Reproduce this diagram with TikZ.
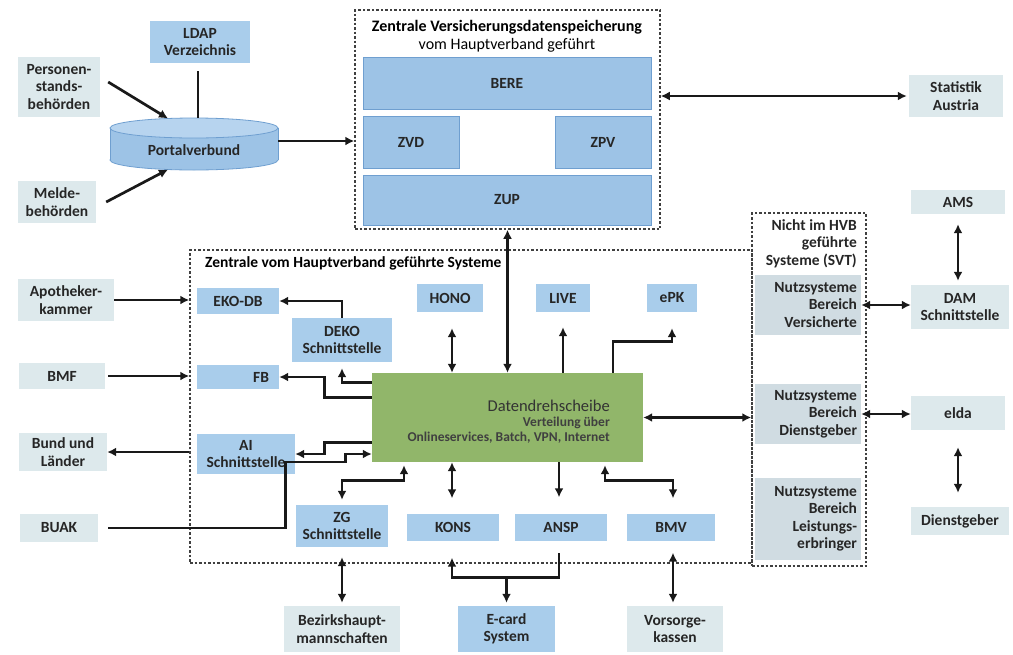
\documentclass[tikz,border=0pt]{standalone}
\usepackage{fontspec}
\setmainfont{Carlito}
\usetikzlibrary{arrows.meta,calc}
\definecolor{extc}{HTML}{DDE9EC}
\definecolor{lbc}{HTML}{A9CDEB}
\definecolor{dbc}{HTML}{9DC3E6}
\definecolor{dbd}{HTML}{6F9FD0}
\definecolor{topc}{HTML}{B7D4EF}
\definecolor{nutzc}{HTML}{D0DCE2}
\definecolor{grn}{HTML}{91B66A}
\begin{document}
\begin{tikzpicture}[x=1pt,y=-1pt,
  txt/.style={font=\bfseries\fontsize{15.5}{17.5}\selectfont, text=black!85, inner sep=0pt, align=center},
  bx/.style 2 args={minimum width=#1, minimum height=#2},
  ext/.style={txt, fill=extc},
  lb/.style={txt, fill=lbc},
  db/.style={txt, fill=dbc, draw=dbd, line width=0.8pt},
  nutz/.style={txt, fill=nutzc, align=right, text width=98pt},
  grnbox/.style={fill=grn, inner sep=0pt},
  frame/.style={draw=black!75, line width=1.5pt, dash pattern=on 2.5pt off 2pt, inner sep=0pt},
  conn/.style={draw=black!90, line width=2.7pt},
  arr/.style={conn, -{Latex[length=9pt,width=9pt]}},
  darr/.style={conn, {Latex[length=9pt,width=9pt]}-{Latex[length=9pt,width=9pt]}},
  rarr/.style={conn, {Latex[length=9pt,width=9pt]}-},
  thinline/.style={line width=1.8pt},
]
\useasboundingbox[fill=white] (0,0) rectangle (1013,654);

% frames
\node[frame, bx={305}{219}] (topf) at (507.5,119.5) {};
\node[frame, bx={562}{313}] (midf) at (471,406.5) {};
\node[frame, bx={114}{353}] (svt) at (809,389.5) {};

% frame titles
\node[txt, font=\bfseries\fontsize{16}{17}\selectfont, text=black] (t1) at (507,27) {Zentrale Versicherungsdatenspeicherung};
\node[txt, font=\mdseries\fontsize{16}{17}\selectfont, text=black] (t2) at (507,45) {vom Hauptverband geführt};
\node[txt, anchor=west, font=\bfseries\fontsize{15.5}{17}\selectfont, text=black] (t3) at (205,263) {Zentrale vom Hauptverband geführte Systeme};
\node[txt, anchor=north east, align=right] (t4) at (857,219) {Nicht im HVB\\geführte\\Systeme (SVT)};

% external boxes
\node[ext, bx={82}{60}] (pers) at (59,87) {Personen-\\stands-\\behörden};
\node[ext, bx={78}{42}] (melde) at (57,202) {Melde-\\behörden};
\node[ext, bx={96}{42}] (apo) at (66,300) {Apotheker-\\kammer};
\node[ext, bx={86}{26}] (bmf) at (62,376) {BMF};
\node[ext, bx={88}{38}] (bund) at (63,452) {Bund und\\Länder};
\node[ext, bx={78}{28}] (buak) at (59,528) {BUAK};
\node[ext, bx={94}{42}] (stat) at (956,96) {Statistik\\Austria};
\node[ext, bx={94}{24}] (ams) at (958,202) {AMS};
\node[ext, bx={98}{44}] (dam) at (960,307) {DAM\\Schnittstelle};
\node[ext, bx={94}{34}] (elda) at (958,413) {elda};
\node[ext, bx={98}{28}] (dg) at (960,521) {Dienstgeber};
\node[ext, bx={116}{46}] (bezirk) at (342,629) {Bezirkshaupt-\\mannschaften};
\node[ext, bx={96}{46}] (vors) at (675,629) {Vorsorge-\\kassen};

% light blue boxes
\node[lb, bx={100}{42}] (ldap) at (200,42) {LDAP\\Verzeichnis};
\node[lb, bx={82}{26}] (ekodb) at (238,301) {EKO-DB};
\node[lb, bx={100}{44}] (deko) at (342,340) {DEKO\\Schnittstelle};
\node[lb, bx={82}{24}, text width=62pt, align=right] (fb) at (238,377) {FB};
\node[lb, bx={98}{40}] (ai) at (246,454) {AI\\Schnittstelle};
\node[lb, bx={66}{28}] (hono) at (450,298) {HONO};
\node[lb, bx={54}{28}] (live) at (563,298) {LIVE};
\node[lb, bx={50}{28}] (epk) at (672,298) {ePK};
\node[lb, bx={92}{42}] (zg) at (342,526) {ZG\\Schnittstelle};
\node[lb, bx={92}{27}] (kons) at (453,527) {KONS};
\node[lb, bx={92}{27}] (ansp) at (561,527) {ANSP};
\node[lb, bx={88}{27}] (bmv) at (671,527) {BMV};
\node[lb, bx={97}{46}] (ecard) at (506.5,629) {E-card\\System};

% database boxes
\node[db, bx={288}{52}] (bere) at (507,83) {BERE};
\node[db, bx={96}{52}] (zvd) at (411,142) {ZVD};
\node[db, bx={96}{52}] (zpv) at (603,142) {ZPV};
\node[db, bx={288}{50}] (zup) at (507,200) {ZUP};

% SVT boxes
\node[nutz, bx={106}{60}] (nv) at (808,305) {Nutzsysteme\\Bereich\\Versicherte};
\node[nutz, bx={106}{60}] (nd) at (808,414) {Nutzsysteme\\Bereich\\Dienstgeber};
\node[nutz, bx={106}{82}] (nl) at (808,519) {Nutzsysteme\\Bereich\\Leistungs-\\erbringer};

% Datendrehscheibe
\node[grnbox, bx={271}{89}] (dds) at (507.5,417.5) {};
\node[txt, anchor=east, font=\mdseries\fontsize{16.5}{17}\selectfont, text=black!80] (dds1) at (610,406) {Datendrehscheibe};
\node[txt, anchor=east, font=\bfseries\fontsize{13.5}{14}\selectfont, text=black!75] (dds2) at (610,423) {Verteilung über};
\node[txt, anchor=east, font=\bfseries\fontsize{13.5}{14}\selectfont, text=black!75] (dds3) at (610,438) {Onlineservices, Batch, VPN, Internet};

% Portalverbund cylinder
\draw[fill=dbc, draw=dbd, line width=0.8pt] (194,160) ellipse [x radius=84, y radius=10];
\fill[dbc] (110,128) rectangle (278,160);
\draw[dbd, line width=0.8pt] (110,128) -- (110,160) (278,128) -- (278,160);
\draw[fill=topc, draw=dbd, line width=0.8pt] (194,128) ellipse [x radius=84, y radius=10];
\node[txt] (pv) at (194,150) {Portalverbund};
\coordinate (pvtop) at (198,118);
\coordinate (pvtl) at (168,118.5);
\coordinate (pvbl) at (168,169.5);
\coordinate (pvr) at (278,141);
\coordinate (amsb) at ([shift={(0,10)}]ams.south);
\coordinate (damt) at ([shift={(0,-4)}]dam.north);
\coordinate (eldab) at ([shift={(0,17)}]elda.south);
\coordinate (dgt) at ([shift={(0,-14)}]dg.north);
\coordinate (bmvb) at ([shift={(2,12)}]bmv.south);
\coordinate (vorst) at ([shift={(0,-3)}]vors.north);

% connectors: top area
\draw[conn] ([shift={(-2,8)}]ldap.south) -- (pvtop);
\draw[arr] ([shift={(8,-5)}]pers.east) -- (pvtl);
\draw[arr] ([shift={(10,0)}]melde.east) -- (pvbl);
\draw[arr] (pvr) -- (pvr -| topf.west);
\draw[darr] (topf.east |- stat.west) -- ([shift={(-2,0)}]stat.west);
\draw[darr] (dds.north) -- (dds.north |- topf.south);

% connectors: left side
\draw[arr] (apo.east) -- (apo.east -| midf.west);
\draw[arr] ([shift={(3,0)}]bmf.east) -- (bmf.east -| midf.west);
\draw[arr] (bund.east -| midf.west) -- (bund.east);
\draw[arr] ([shift={(0,-35)}]dds.west) -| ([shift={(0,6)}]deko.south);
\draw[arr] (deko.north) |- (ekodb.east);
\draw[arr] ([shift={(0,-20)}]dds.west) -- ++(-47,0) |- (fb.east);
\draw[arr] ([shift={(0,25)}]dds.west) -- ++(-47,0) |- (ai.east);
\draw[arr] ([shift={(10,0)}]buak.east) -- ++(177,0) -- ++(0,-66) -- ++(60,0) |- ([shift={(0,36.5)}]dds.west);

% connectors: top inside
\draw[darr] ([shift={(2,16)}]hono.south) -- ([shift={(2,0)}]hono.south |- dds.north);
\draw[arr] (live.south |- dds.north) -- ([shift={(0,15)}]live.south);
\draw[arr] ([shift={(105.5,0)}]dds.north) -- ++(0,-31) -| ([shift={(0,16)}]epk.south);
\draw[darr] (dds.east) -- (svt.west |- dds.east);

% connectors: bottom inside
\draw[darr] ([shift={(-103.5,3)}]dds.south) -- ++(0,15) -| ([shift={(0,-5)}]zg.north);
\draw[darr] ([shift={(-1,0)}]kons.north |- dds.south) -- ([shift={(-1,-15)}]kons.north);
\draw[arr] ([shift={(-2,0)}]ansp.north |- dds.south) -- ([shift={(-2,-16)}]ansp.north);
\draw[darr] ([shift={(97.5,3)}]dds.south) -- ++(0,15) -| ([shift={(2,-15)}]bmv.north);

% connectors: bottom outside
\coordinate (ej) at ([shift={(-1,37)}]kons.south);
\draw[rarr] ([shift={(-1,17)}]kons.south) -- (ej) -| ([shift={(-2,12)}]ansp.south);
\draw[arr] (ecard.north |- ej) -- ([shift={(0,-3)}]ecard.north);
\draw[darr] ([shift={(0,10)}]zg.south) -- ([shift={(0,-3)}]bezirk.north);
\draw[darr] (bmvb) -- (bmvb |- vorst);

% connectors: right side
\draw[darr, thinline] (nv.east) -- (nv.east -| dam.west);
\draw[darr, thinline] (nd.east) -- (nd.east -| elda.west);
\draw[darr] (amsb) -- (amsb |- damt);
\draw[darr] (eldab) -- (eldab |- dgt);
\end{tikzpicture}
\end{document}
